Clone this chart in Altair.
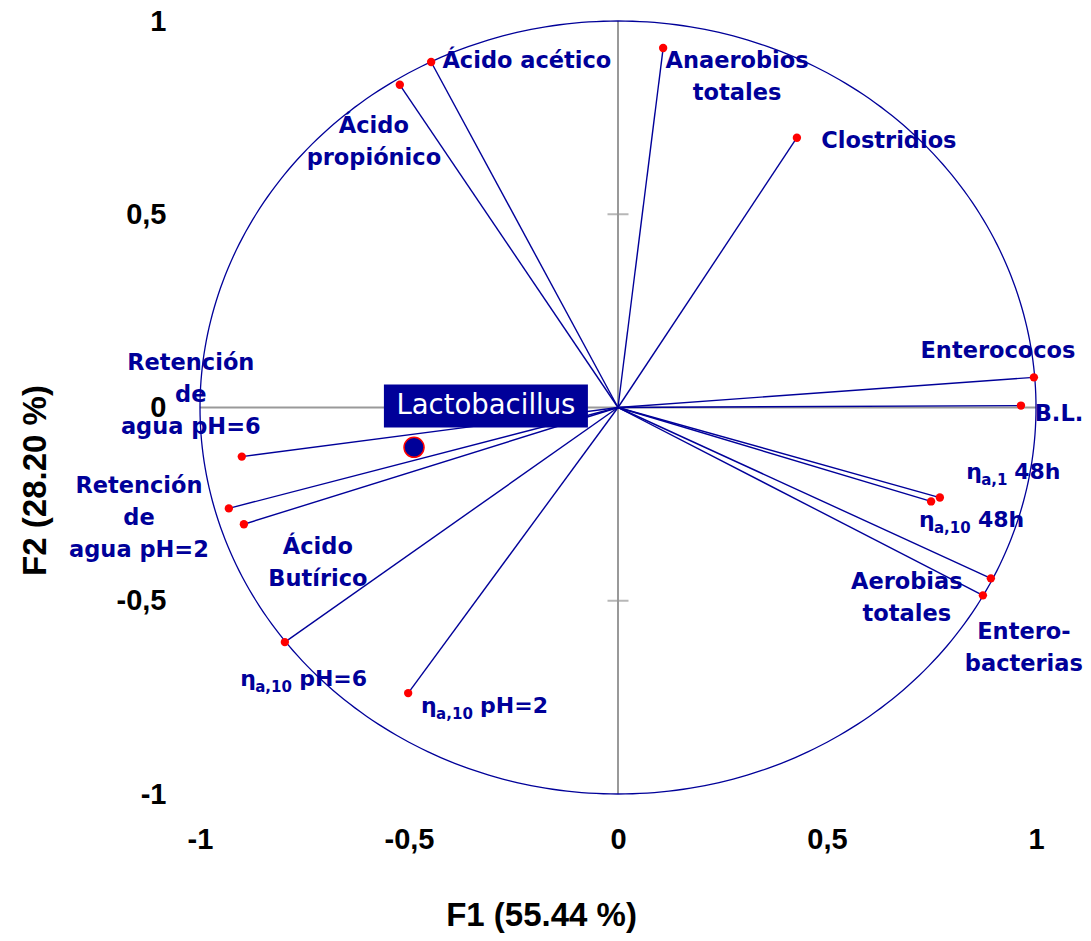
import altair as alt
import pandas as pd
import numpy as np

# ---- data ----
var_names = ["Ácido acético", "Ácido propiónico", "Anaerobios totales", "Clostridios",
             "Enterococos", "B.L.", "ηa,1 48h", "ηa,10 48h", "Aerobias totales",
             "Enterobacterias", "ηa,10 pH=6", "ηa,10 pH=2",
             "Retención de agua pH=6", "Retención de agua pH=2", "Ácido Butírico"]
f1 = [-0.447, -0.522, 0.108, 0.428, 0.995, 0.964, 0.770, 0.749, 0.892, 0.873,
      -0.797, -0.502, -0.900, -0.931, -0.895]
f2 = [0.894, 0.835, 0.930, 0.698, 0.078, 0.005, -0.233, -0.243, -0.442, -0.486,
      -0.607, -0.739, -0.127, -0.261, -0.302]

# plain labels (position = centre of the first line)
label_text = ["Ácido acético", "Ácido\npropiónico", "Anaerobios\ntotales", "Clostridios",
              "Enterococos", "B.L.", "Aerobias\ntotales", "Entero-\nbacterias",
              "Retención\nde\nagua pH=6", "Retención\nde\nagua pH=2", "Ácido\nButírico"]
label_x = [-0.218, -0.584, 0.285, 0.648, 0.909, 1.055, 0.691, 0.971, -1.022, -1.146, -0.718]
label_y = [0.897, 0.729, 0.897, 0.690, 0.147, -0.016, -0.452, -0.581, 0.114, -0.202, -0.362]

# eta labels (η + subscript + suffix)
eta1_sub = ["a,1"]
eta1_suffix = ["48h"]
eta1_x = [0.833]
eta1_y = [-0.186]
eta10_sub = ["a,10", "a,10", "a,10"]
eta10_suffix = ["48h", "pH=6", "pH=2"]
eta10_x = [0.720, -0.904, -0.471]
eta10_y = [-0.310, -0.721, -0.791]

# supplementary observation
obs_name = ["Lactobacillus"]
obs_x = [-0.488]
obs_y = [-0.103]
obs_label_x = [-0.316]
obs_label_y = [0.004]

tick_values = [-1, -0.5, 0, 0.5, 1]
inner_ticks = [-0.5, 0.5]

NAVY = "#000099"
LABEL_FONT = "DejaVu Sans"
AXIS_FONT = "Liberation Sans"

vars_df = pd.DataFrame({"name": var_names, "x": f1, "y": f2, "x0": 0.0, "y0": 0.0})
labels_df = pd.DataFrame({"text": label_text, "x": label_x, "y": label_y})
eta1_df = pd.DataFrame({"eta": "η", "sub": eta1_sub, "suf": eta1_suffix, "x": eta1_x, "y": eta1_y})
eta10_df = pd.DataFrame({"eta": "η", "sub": eta10_sub, "suf": eta10_suffix, "x": eta10_x, "y": eta10_y})
obs_df = pd.DataFrame({"name": obs_name, "x": obs_x, "y": obs_y,
                       "lx": obs_label_x, "ly": obs_label_y})
axes_df = pd.DataFrame({"x": [-1, 0], "x2": [1, 0], "y": [0, -1], "y2": [0, 1]})
ticks_df = pd.DataFrame({"x": [0, 0], "y": inner_ticks})

ang = np.linspace(0, 2 * np.pi, 361)
circle_df = pd.DataFrame({"x": np.cos(ang), "y": np.sin(ang), "i": np.arange(361)})

xscale = alt.Scale(domain=[-1, 1], nice=False, zero=False)
yscale = alt.Scale(domain=[-1, 1], nice=False, zero=False)

label_expr = "replace(toString(datum.value), '.', ',')"
xaxis = alt.Axis(values=tick_values, labelExpr=label_expr, domain=False, ticks=False, grid=False,
                 labelPadding=31, labelFont=AXIS_FONT, labelFontSize=29, labelFontWeight="bold",
                 labelColor="black", labelFlush=False, labelOverlap=False,
                 title="F1 (55.44 %)", titleX=341, titleY=121, titleBaseline="middle",
                 titleFont=AXIS_FONT, titleFontSize=33, titleFontWeight="bold", titleColor="black")
yaxis = alt.Axis(values=tick_values, labelExpr=label_expr, domain=False, ticks=False, grid=False,
                 labelPadding=34, labelFont=AXIS_FONT, labelFontSize=29, labelFontWeight="bold",
                 labelColor="black", labelFlush=False, labelOverlap=False,
                 title="F2 (28.20 %)", titleX=-165, titleY=459, titleBaseline="middle",
                 titleAlign="center", titleAngle=270,
                 titleFont=AXIS_FONT, titleFontSize=33, titleFontWeight="bold", titleColor="black")


def X(f="x"):
    return alt.X(f"{f}:Q", scale=xscale, axis=xaxis, title="F1 (55.44 %)")


def Y(f="y"):
    return alt.Y(f"{f}:Q", scale=yscale, axis=yaxis, title="F2 (28.20 %)")


gray_axes = alt.Chart(axes_df).mark_rule(color="#999999", strokeWidth=2).encode(
    x=X(), x2="x2:Q", y=Y(), y2="y2:Q")

gray_ticks = alt.Chart(ticks_df).mark_tick(color="#999999", thickness=2, size=21,
                                           orient="horizontal").encode(x=X(), y=Y())

circle = alt.Chart(circle_df).mark_line(color=NAVY, strokeWidth=1.3).encode(
    x=X(), y=Y(), order="i:Q")

vectors = alt.Chart(vars_df).mark_rule(color=NAVY, strokeWidth=1.4).encode(
    x=X("x0"), y=Y("y0"), x2="x:Q", y2="y:Q")

dots = alt.Chart(vars_df).mark_circle(color="#FF0000", size=70, opacity=1).encode(x=X(), y=Y())

obs_point = alt.Chart(obs_df).mark_point(filled=True, fill=NAVY, stroke="#FF0000", strokeWidth=1.5,
                                         size=400, opacity=1, shape="circle").encode(x=X(), y=Y())

box_path = "M-1,-0.211L1,-0.211L1,0.211L-1,0.211Z"
obs_box = alt.Chart(obs_df).mark_point(filled=True, color=NAVY, opacity=1, size=204 * 204,
                                       shape=box_path, strokeWidth=0).encode(x=X("lx"), y=Y("ly"))
obs_text = alt.Chart(obs_df).mark_text(color="white", font=LABEL_FONT, fontSize=27.5,
                                       align="center", baseline="middle").encode(
    x=X("lx"), y=Y("ly"), text="name:N")

labels = alt.Chart(labels_df).mark_text(color=NAVY, font=LABEL_FONT, fontSize=22.5, fontWeight="bold",
                                        align="center", baseline="middle", lineBreak="\n",
                                        lineHeight=32).encode(x=X(), y=Y(), text="text:N")


def eta_layers(df, suf_dx):
    base = alt.Chart(df)
    eta = base.mark_text(color=NAVY, font=LABEL_FONT, fontSize=22, fontWeight="bold",
                         align="left", baseline="alphabetic").encode(x=X(), y=Y(), text="eta:N")
    sub = base.mark_text(color=NAVY, font=LABEL_FONT, fontSize=15, fontWeight="bold",
                         align="left", baseline="alphabetic", dx=15, dy=6).encode(
        x=X(), y=Y(), text="sub:N")
    suf = base.mark_text(color=NAVY, font=LABEL_FONT, fontSize=22, fontWeight="bold",
                         align="left", baseline="alphabetic", dx=suf_dx).encode(
        x=X(), y=Y(), text="suf:N")
    return [eta, sub, suf]


chart = alt.layer(
    gray_axes, gray_ticks, circle, vectors, dots, obs_point, obs_box, obs_text, labels,
    *eta_layers(eta1_df, 48), *eta_layers(eta10_df, 59)
).properties(
    width=836, height=773,
    autosize=alt.AutoSizeParams(type="none"),
    padding={"left": 192, "top": 13, "right": 47, "bottom": 139},
).configure(background="white").configure_view(stroke="transparent", strokeWidth=0)

chart.save("out.html", embed_options={"renderer": "svg", "actions": False})
